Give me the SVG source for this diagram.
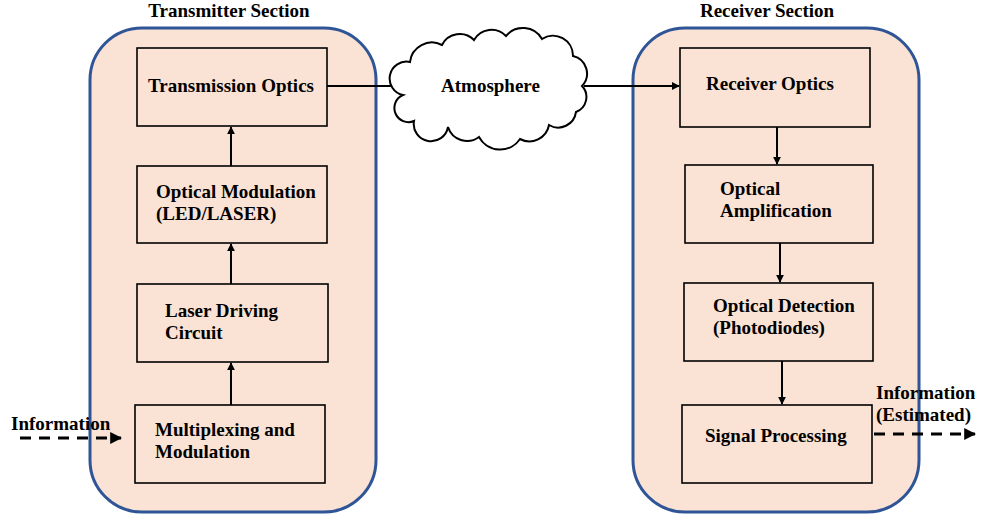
<svg xmlns="http://www.w3.org/2000/svg" width="986" height="519" viewBox="0 0 986 519">
  <defs>
    <marker id="arrow" viewBox="0 0 10 10" refX="9" refY="5" markerWidth="4" markerHeight="4" orient="auto-start-reverse" markerUnits="strokeWidth">
      <path d="M0,0 L10,5 L0,10 z" fill="#000"/>
    </marker>
    <style>
      .section { fill: #FAE3D5; stroke: #2F5597; stroke-width: 3; }
      .box { fill: #FAE3D5; stroke: #000; stroke-width: 1.6; }
      .label { font-family: "Liberation Serif", "DejaVu Serif", serif; font-weight: bold; font-size: 19px; fill: #000; }
      .title { font-family: "Liberation Serif", "DejaVu Serif", serif; font-weight: bold; font-size: 19px; fill: #000; }
      .link { stroke: #000; stroke-width: 2; fill: none; marker-end: url(#arrow); }
      .dashed { stroke: #000; stroke-width: 3; fill: none; stroke-dasharray: 11 8; marker-end: url(#arrow); }
      .cloud { fill: #fff; stroke: #000; stroke-width: 2; }
    </style>
  </defs>

  <rect width="986" height="519" fill="#fff"/>

  <!-- Section containers -->
  <g id="transmitter-section">
    <rect class="section" x="90" y="28" width="286" height="484" rx="52" ry="52"/>
    <text class="title" x="229" y="17" text-anchor="middle">Transmitter Section</text>
  </g>
  <g id="receiver-section">
    <rect class="section" x="633" y="28" width="286" height="484" rx="52" ry="52"/>
    <text class="title" x="767" y="17" text-anchor="middle">Receiver Section</text>
  </g>

  <!-- Connectors -->
  <g id="connectors">
    <line class="link" x1="327" y1="86" x2="401" y2="86"/>
    <line class="link" x1="584" y1="86" x2="679" y2="86"/>
    <line class="link" x1="231" y1="166" x2="231" y2="127"/>
    <line class="link" x1="231" y1="284" x2="231" y2="244"/>
    <line class="link" x1="231" y1="405" x2="231" y2="363"/>
    <line class="link" x1="777" y1="127" x2="777" y2="164"/>
    <line class="link" x1="780" y1="243" x2="780" y2="282"/>
    <line class="link" x1="782" y1="361" x2="782" y2="404"/>
    <line class="dashed" x1="20" y1="438" x2="121" y2="438"/>
    <line class="dashed" x1="874" y1="434" x2="975" y2="434"/>
    <text class="label" x="11" y="430">Information</text>
    <text class="label" x="876" y="399">Information</text>
    <text class="label" x="876" y="421">(Estimated)</text>
  </g>

  <!-- Transmitter blocks -->
  <g id="transmission-optics">
    <rect class="box" x="137" y="48" width="190" height="78"/>
    <text class="label" x="231" y="92" text-anchor="middle">Transmission Optics</text>
  </g>
  <g id="optical-modulation">
    <rect class="box" x="137" y="166" width="190" height="77"/>
    <text class="label" x="156" y="198">Optical Modulation</text>
    <text class="label" x="156" y="220">(LED/LASER)</text>
  </g>
  <g id="laser-driving-circuit">
    <rect class="box" x="137" y="284" width="191" height="78"/>
    <text class="label" x="165" y="317">Laser Driving</text>
    <text class="label" x="165" y="339">Circuit</text>
  </g>
  <g id="multiplexing-modulation">
    <rect class="box" x="135" y="405" width="190" height="78"/>
    <text class="label" x="155" y="436">Multiplexing and</text>
    <text class="label" x="155" y="458">Modulation</text>
  </g>

  <!-- Channel -->
  <g id="atmosphere">
    <path class="cloud" d="M403,95
      A16,16 0 0 1 410,62
      A22,22 0 0 1 442,45
      A20,20 0 0 1 474,40
      A20,20 0 0 1 506,36
      A22,22 0 0 1 542,39
      A20,20 0 0 1 573,56
      A18,18 0 0 1 582,86
      A16,16 0 0 1 576,112
      A18,18 0 0 1 549,125
      A20,20 0 0 1 520,139
      A24,24 0 0 1 479,137
      A20,20 0 0 1 448,127
      A17,17 0 0 1 414,121
      A14,14 0 0 1 403,95 Z"/>
    <text class="label" x="441" y="92">Atmosphere</text>
  </g>

  <!-- Receiver blocks -->
  <g id="receiver-optics">
    <rect class="box" x="680" y="48" width="190" height="79"/>
    <text class="label" x="706" y="90">Receiver Optics</text>
  </g>
  <g id="optical-amplification">
    <rect class="box" x="685" y="165" width="188" height="78"/>
    <text class="label" x="720" y="195">Optical</text>
    <text class="label" x="720" y="217">Amplification</text>
  </g>
  <g id="optical-detection">
    <rect class="box" x="684" y="283" width="189" height="78"/>
    <text class="label" x="713" y="312">Optical Detection</text>
    <text class="label" x="713" y="334">(Photodiodes)</text>
  </g>
  <g id="signal-processing">
    <rect class="box" x="682" y="405" width="190" height="78"/>
    <text class="label" x="705" y="442">Signal Processing</text>
  </g>
</svg>
